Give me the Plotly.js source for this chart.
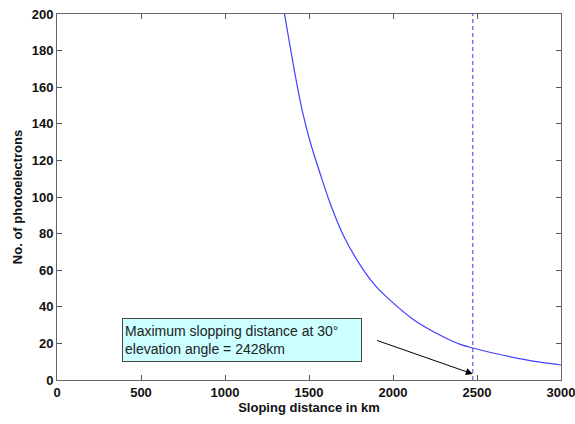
<!DOCTYPE html>
<html>
<head>
<meta charset="utf-8">
<script src="https://cdn.plot.ly/plotly-3.0.1.min.js"></script>
<style>html,body{margin:0;padding:0;background:#fff;}#chart{width:575px;height:424px;}</style>
</head>
<body>
<div id="chart"></div>
<script>
// Sloping distance (km) and number of photoelectrons
const distanceKm = [1354, 1390, 1419, 1459, 1509, 1569, 1628, 1707, 1807, 1886, 1966, 2125, 2284, 2404, 2475, 2602, 2801, 3000];
const photoelectrons = [200, 181, 166, 147.5, 129.5, 112, 96, 78.5, 62.5, 52.5, 45, 32.8, 24.3, 19.3, 17.5, 14.6, 10.9, 8.2];
// Vertical dashed marker for maximum sloping distance
const markerX = [2475, 2475];
const markerY = [0, 200];
const xTicks = [0, 500, 1000, 1500, 2000, 2500, 3000];
const yTicks = [0, 20, 40, 60, 80, 100, 120, 140, 160, 180, 200];
const noteLines = ["Maximum slopping distance at 30\u00B0", "elevation angle = 2428km"];

const fam = "Liberation Sans, Arial, sans-serif";
const common = {
  showline: true, linecolor: "#666", linewidth: 1, mirror: "ticks",
  ticks: "inside", ticklen: 5, tickcolor: "#555", showgrid: false, zeroline: false,
  ticklabeloverflow: "allow",
  tickfont: {family: fam, size: 13, color: "#111", weight: "bold"}
};

const traces = [
  {x: distanceKm, y: photoelectrons, mode: "lines", line: {color: "#4040ff", width: 1.2, shape: "spline", smoothing: 0.8}, hoverinfo: "skip"},
  {x: markerX, y: markerY, mode: "lines", line: {color: "#4848ff", width: 1.1, dash: "4px,3px"}, hoverinfo: "skip"}
];

const layout = {
  width: 575, height: 424,
  margin: {l: 57, r: 14, t: 14, b: 44},
  paper_bgcolor: "#fff", plot_bgcolor: "#fff",
  showlegend: false,
  xaxis: Object.assign({}, common, {
    range: [0, 3000], tickvals: xTicks, ticktext: xTicks.map(String),
    title: {text: "Sloping distance in km", font: {family: fam, size: 13, color: "#111", weight: "bold"}, standoff: 2}
  }),
  yaxis: Object.assign({}, common, {
    range: [0, 200], tickvals: yTicks, ticktext: yTicks.map(String),
    title: {text: "No. of photoelectrons", font: {family: fam, size: 13, color: "#111", weight: "bold"}, standoff: 6}
  }),
  annotations: [
    {
      x: 1101, y: 21.6, xref: "x", yref: "y",
      text: noteLines.join("<br>"), showarrow: false, align: "left",
      font: {family: fam, size: 14, color: "#222"},
      bgcolor: "#ccffff", bordercolor: "#444", borderwidth: 1, borderpad: 2,
      width: 234, height: 38, xanchor: "center", yanchor: "middle"
    },
    {
      x: 2475, y: 3.3, xref: "x", yref: "y",
      ax: 1896, ay: 21.9, axref: "x", ayref: "y",
      text: "", showarrow: true, arrowhead: 2, arrowsize: 1.4, arrowwidth: 1, arrowcolor: "#000"
    }
  ]
};

Plotly.newPlot("chart", traces, layout, {staticPlot: true, displayModeBar: false});
</script>
</body>
</html>
